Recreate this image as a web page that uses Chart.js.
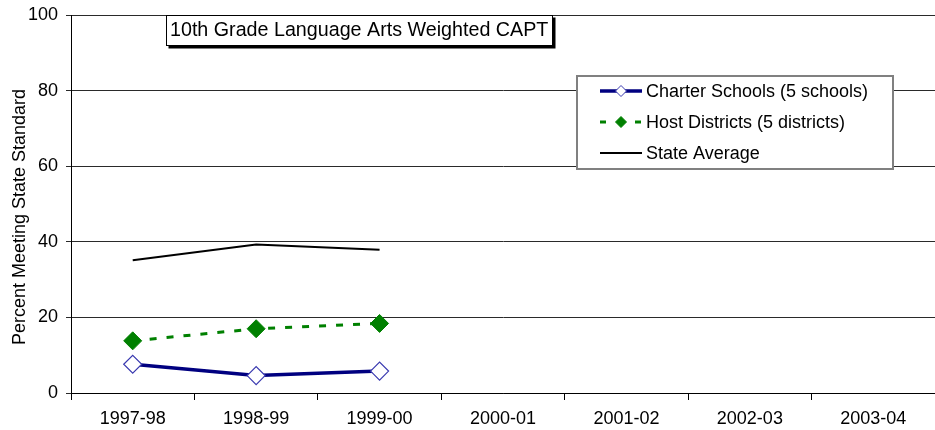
<!DOCTYPE html>
<html>
<head>
<meta charset="utf-8">
<script src="https://cdn.jsdelivr.net/npm/chart.js@4.4.1/dist/chart.umd.min.js"></script>
<style>
    html, body {
        margin: 0;
        padding: 0;
        background: #fff;
        overflow: hidden;
    }

    #wrap {
        position: relative;
        width: 935px;
        height: 430px;
    }

    #captChart {
        display: block;
    }
</style>
</head>
<body>
<div id="wrap">
    <canvas id="captChart" width="935" height="430"></canvas>
</div>

<script>
// =========================
// DADOS
// =========================
const anos = ['1997-98', '1998-99', '1999-00', '2000-01', '2001-02', '2002-03', '2003-04'];

const charterSchools = [7.6, 4.6, 5.8];
const hostDistricts = [13.8, 17.0, 18.4];
const stateAverage = [35.1, 39.3, 37.9];

const yTicks = [0, 20, 40, 60, 80, 100];

const tituloGrafico = '10th Grade Language Arts Weighted CAPT';
const tituloEixoY = 'Percent Meeting State Standard';

const FONTE = '"Liberation Sans", Arial, sans-serif';

// ========================
// CAIXAS: TÍTULO, LEGENDA, EIXO Y
// ========================
function desenhaLosango(ctx, x, y, r, fill, stroke, lw) {
    ctx.beginPath();
    ctx.moveTo(x, y - r);
    ctx.lineTo(x + r, y);
    ctx.lineTo(x, y + r);
    ctx.lineTo(x - r, y);
    ctx.closePath();
    ctx.fillStyle = fill;
    ctx.fill();
    if (stroke) {
        ctx.lineWidth = lw;
        ctx.strokeStyle = stroke;
        ctx.stroke();
    }
}

const caixasPlugin = {
    id: 'caixas',
    afterDraw(chart) {
        const ctx = chart.ctx;
        ctx.save();

        // título do eixo Y
        ctx.save();
        ctx.translate(20, 217);
        ctx.rotate(-Math.PI / 2);
        ctx.font = `18px ${FONTE}`;
        ctx.fillStyle = '#000';
        ctx.textAlign = 'center';
        ctx.textBaseline = 'middle';
        ctx.fillText(tituloEixoY, 0, 0);
        ctx.restore();

        // caixa do título, com sombra
        ctx.fillStyle = '#000';
        ctx.fillRect(168.5, 17.5, 387, 31);
        ctx.fillStyle = '#fff';
        ctx.fillRect(166.5, 15.5, 386, 30);
        ctx.lineWidth = 1;
        ctx.strokeStyle = '#000';
        ctx.strokeRect(166.5, 15.5, 386, 30);
        ctx.font = `19.7px ${FONTE}`;
        ctx.fillStyle = '#000';
        ctx.textAlign = 'left';
        ctx.textBaseline = 'middle';
        ctx.fillText(tituloGrafico, 170, 31);

        // legenda
        ctx.fillStyle = '#fff';
        ctx.fillRect(577, 76, 316, 93);
        ctx.lineWidth = 2;
        ctx.strokeStyle = '#808080';
        ctx.strokeRect(577, 76, 316, 93);

        const linhas = [91, 122, 153];
        chart.data.datasets.forEach((ds, i) => {
            const y = linhas[i];
            ctx.save();
            ctx.beginPath();
            ctx.lineWidth = ds.borderWidth;
            ctx.strokeStyle = ds.borderColor;
            if (ds.borderDash) {
                ctx.setLineDash([6, 29]);
            }
            ctx.moveTo(600, y);
            ctx.lineTo(642, y);
            ctx.stroke();
            ctx.restore();

            if (ds.pointRadius > 0) {
                desenhaLosango(ctx, 621, y, 5.5,
                    ds.pointBackgroundColor, ds.pointBorderColor, 1);
            }

            ctx.font = `18px ${FONTE}`;
            ctx.fillStyle = '#000';
            ctx.textAlign = 'left';
            ctx.textBaseline = 'middle';
            ctx.fillText(ds.label, 646, y + 1);
        });

        ctx.restore();
    }
};

// ========================
// GRÁFICO
// ========================
const ctx = document.getElementById('captChart').getContext('2d');

new Chart(ctx, {
    type: 'line',
    data: {
        labels: anos,
        datasets: [
            {
                label: 'Charter Schools (5 schools)',
                data: charterSchools,
                borderColor: '#000080',
                borderWidth: 3.5,
                pointStyle: 'rectRot',
                pointRadius: 9,
                pointBackgroundColor: '#fff',
                pointBorderColor: '#3a3ab0',
                pointBorderWidth: 1.2,
                tension: 0,
                order: 1
            },
            {
                label: 'Host Districts (5 districts)',
                data: hostDistricts,
                borderColor: '#008000',
                borderWidth: 3,
                borderDash: [7, 10],
                pointStyle: 'rectRot',
                pointRadius: 9,
                pointBackgroundColor: '#008000',
                pointBorderColor: '#008000',
                pointBorderWidth: 1,
                tension: 0,
                order: 2
            },
            {
                label: 'State Average',
                data: stateAverage,
                borderColor: '#000',
                borderWidth: 2,
                pointRadius: 0,
                tension: 0,
                order: 3
            }
        ]
    },
    options: {
        responsive: false,
        animation: false,
        layout: {
            // sem folga automática para os marcadores: a área vai até a borda
            autoPadding: false,
            padding: { top: 15, right: 0, bottom: 0, left: 0 }
        },
        plugins: {
            legend: { display: false },
            tooltip: { enabled: false }
        },
        scales: {
            x: {
                offset: true,
                grid: {
                    offset: true,
                    drawOnChartArea: false,
                    drawTicks: true,
                    tickLength: 7,
                    color: '#000'
                },
                border: { color: '#000', width: 1 },
                ticks: {
                    color: '#000',
                    padding: 8,
                    maxRotation: 0,
                    font: { family: FONTE, size: 18 }
                },
                afterFit: s => {
                    s.height = 37;
                    s.paddingLeft = 0;
                    s.paddingRight = 0;
                }
            },
            y: {
                min: 0,
                max: 100,
                afterBuildTicks: s => {
                    s.ticks = yTicks.map(v => ({ value: v }));
                },
                grid: {
                    color: '#2a2a2a',
                    lineWidth: 1,
                    tickLength: 5
                },
                border: { color: '#000', width: 1 },
                ticks: {
                    color: '#000',
                    padding: 8,
                    font: { family: FONTE, size: 18 }
                },
                afterFit: s => {
                    s.width = 71;
                    s.paddingTop = 0;
                    s.paddingBottom = 0;
                }
            }
        }
    },
    plugins: [caixasPlugin]
});
</script>
</body>
</html>
